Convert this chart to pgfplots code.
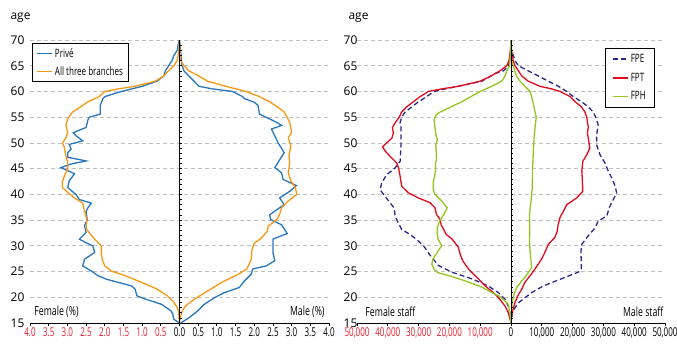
\documentclass[border=0pt]{standalone}
\usepackage{fontspec}
\setmainfont{Open Sans}
\newfontfamily\cond[FakeStretch=0.7]{Open Sans}
\newfontfamily\condt[FakeStretch=0.66]{Open Sans}
\usepackage{pgfplots}
\pgfplotsset{compat=1.18}
\definecolor{cPrive}{RGB}{40,118,190}
\definecolor{cAll}{RGB}{247,152,20}
\definecolor{cFPE}{RGB}{40,40,140}
\definecolor{cFPT}{RGB}{228,10,30}
\definecolor{cFPH}{RGB}{150,196,30}
\definecolor{negred}{RGB}{235,30,45}
\pgfplotsset{pyr/.style={
  scale only axis, height=283pt, ymin=15, ymax=70,
  clip mode=individual,
  axis x line*=bottom, axis y line*=left,
  y axis line style={draw=none},
  x axis line style={line width=1pt},
  ytick={15,20,...,70}, ytick style={draw=none},
  ymajorgrids, grid style={dash pattern=on 4pt off 3pt, black!25, line width=0.8pt},
  xtick align=outside, major tick length=3pt,
  xtick style={black, line width=0.8pt},
  /pgf/number format/assume math mode=true,
  yticklabel style={font=\fontsize{12}{12}\selectfont},
  xticklabel style={font=\condt\fontsize{12.2}{13}\selectfont, yshift=1.5pt, inner xsep=0pt},
  legend cell align=left,
  legend style={draw=black, line width=0.8pt, fill=white, font=\cond\fontsize{11.5}{12}\selectfont},
  legend image code/.code={\draw[#1, line width=1.5pt] (0pt,0pt) -- (15pt,0pt);},
}}
\begin{document}
\begin{tikzpicture}[x=1pt,y=1pt]
\path[use as bounding box] (0,0) rectangle (677,346);
% ---------------- left panel ----------------
\begin{axis}[pyr, at={(30pt,23pt)}, anchor=south west, width=299pt,
  xmin=-4, xmax=4, xtick={-4,-3.5,...,4},
  xticklabels={\textcolor{negred}{4.0},\textcolor{negred}{3.5},\textcolor{negred}{3.0},\textcolor{negred}{2.5},\textcolor{negred}{2.0},\textcolor{negred}{1.5},\textcolor{negred}{1.0},\textcolor{negred}{0.5},0.0,0.5,1.0,1.5,2.0,2.5,3.0,3.5,4.0},
  yticklabel style={xshift=-2pt},
  legend style={at={(0.007,0.99)}, anchor=north west, row sep=4pt, inner xsep=4pt, inner ysep=3pt},
]
\addplot[cPrive, line width=1.3pt] table {
x y
0 15
-0.15 15.7
-0.18 16.7
-0.22 17.3
-0.47 18.6
-1.01 19.9
-1.14 20.3
-1.19 21.6
-1.28 22.2
-1.95 23.5
-2.18 24.2
-2.36 25.1
-2.59 26.1
-2.54 27.4
-2.27 28.7
-2.32 30
-2.5 30.6
-2.68 31.3
-2.5 32.6
-2.54 33.9
-2.47 35.1
-2.5 36.7
-2.45 37.4
-2.36 38.3
-2.68 39
-2.77 40
-2.99 41.3
-2.95 42.6
-2.81 44
-3.17 45.2
-2.9 45.9
-2.5 46.5
-2.99 47.2
-2.99 48.1
-2.9 48.8
-2.95 49.7
-2.59 50.4
-2.77 51.4
-2.84 52
-2.5 53
-2.45 54.5
-2.41 55
-2.12 55.6
-2.12 57.3
-2.05 58.6
-2.0 59
-1.55 60
-1.0 61
-0.6 62
-0.42 63
-0.38 64
-0.29 65
-0.2 66
-0.15 67
-0.06 68
-0.04 69
0 70
0.03 68
0.05 66
0.07 65
0.12 64
0.25 63
0.39 62
0.52 61
0.88 60.5
1.42 60
1.69 59
1.74 58.6
2.0 57.9
2.1 57.3
2.14 55.6
2.6 54
2.73 53.4
2.46 52.7
2.64 50
2.8 48.1
2.55 45.2
2.73 44.2
2.77 42.9
3.13 41.7
2.95 40.6
2.68 39.3
2.8 38
2.6 37
2.41 36
2.44 35.1
2.73 34.1
2.88 32.4
2.5 31.3
2.5 30
2.5 28.7
2.55 27.1
2.32 26.1
1.96 25.5
1.92 24.5
1.74 23.2
1.6 21.9
1.2 20.9
0.93 19.9
0.66 18.6
0.48 17.3
0.25 16
0.03 15
};
\addlegendentry{Privé}
\addplot[cAll, line width=1.3pt] table {
x y
0 15
-0.02 16.7
-0.04 17.7
-0.15 19
-0.33 20.3
-0.6 21.6
-1.01 22.9
-1.46 24.2
-1.82 25.1
-2.0 26.1
-2.07 27.4
-2.09 28.5
-2.09 30
-2.27 31.3
-2.4 32.4
-2.5 33.4
-2.48 35.1
-2.55 37
-2.59 38.3
-2.81 39.3
-2.99 40.4
-3.13 41.3
-3.14 42.3
-3.08 43.6
-2.99 44.9
-2.99 46.2
-3.04 47.5
-3.08 49.1
-3.13 50
-3.04 51
-2.99 52
-3.04 53.4
-2.99 54.7
-2.86 56
-2.65 57
-2.45 58
-2.15 59
-2.0 60
-1.64 60.5
-1.19 61
-0.65 62
-0.42 63
-0.3 64
-0.15 65
-0.06 66
-0.02 68
0 70
0.01 68
0.03 66
0.12 65
0.25 64
0.52 63
0.75 62
1.24 61
1.78 60
2.14 59
2.41 58
2.62 57
2.8 56
2.88 55
2.95 54
3.0 52
2.91 51
2.98 49.4
2.93 47.5
2.95 46.2
2.91 44.2
2.98 42.6
3.1 41.3
3.14 40
2.91 38.7
2.73 37.4
2.68 36.1
2.6 35.1
2.37 33.8
2.35 32.8
2.19 31.5
2.0 30.5
1.94 29.2
1.92 27.4
1.87 26.6
1.8 25.5
1.58 24.5
1.13 22.9
0.68 20.9
0.39 19.6
0.16 18.3
0.07 17.3
0.02 16
0 15
};
\addlegendentry{All three branches}
\draw[black, line width=1pt] (axis cs:0,15) -- (axis cs:0,70);
\pgfplotsinvokeforeach{16,...,69}{\draw[black, line width=0.7pt] (axis cs:0,#1) -- ++(2pt,0pt);}
\node[anchor=west, font=\cond\fontsize{12.5}{13}\selectfont] at (axis description cs:0.003,0.04) {Female (\%)};
\node[anchor=east, font=\cond\fontsize{12.5}{13}\selectfont] at (axis description cs:0.997,0.04) {Male (\%)};
\node[anchor=west, font=\fontsize{12}{12}\selectfont] at (axis description cs:-0.077,1.078) {age};
\end{axis}
% ---------------- right panel ----------------
\begin{axis}[pyr, at={(357pt,23pt)}, anchor=south west, width=308pt,
  xmin=-50000, xmax=50000, xtick={-50000,-40000,...,50000},
  xticklabels={\textcolor{negred}{50,000},\textcolor{negred}{40,000},\textcolor{negred}{30,000},\textcolor{negred}{20,000},\textcolor{negred}{10,000},0,{10,000},{20,000},{30,000},{40,000},{50,000}},
  scaled x ticks=false,
  yticklabel style={xshift=4pt},
  legend style={at={(0.968,0.972)}, anchor=north east, row sep=5pt, inner xsep=7pt, inner ysep=4pt},
]
\addplot[cFPE, line width=1.3pt, dash pattern=on 5pt off 3pt] table {
x y
0 15
-400 17
-870 18.3
-1950 19.6
-4100 20.9
-7400 22.2
-12800 23.6
-19300 24.9
-23600 26.2
-26300 28.2
-28500 30.1
-31000 31.4
-32800 32.2
-35500 33.2
-36900 34.8
-37600 35.8
-38000 37.4
-39300 38.4
-40900 39.6
-42500 40.9
-42000 42.2
-40400 43.8
-37700 45.1
-36000 46.4
-35700 49.8
-35700 53
-36000 54
-35500 55
-34400 56
-32200 57
-30000 58
-27400 59
-24900 60
-21400 60.5
-17100 61
-9500 62
-6500 63
-5200 63.5
-2490 64
-870 65
-300 66
0 67
0 70
0 68
760 67
1300 66
2400 65
5600 64
8900 63
12100 62
15400 61
18100 60
20200 59
22900 58
25100 57
26700 56
27500 55
28300 53.5
27800 51.6
27800 49.6
28900 47.7
30500 46.1
31600 44.5
32700 43.2
33800 41.6
34300 40.3
33200 39
31900 37.4
31100 35.8
28300 34.8
27300 33.5
24600 31.6
23000 30.3
22700 29
22800 27.1
22800 25.5
21900 24.9
16400 23.6
10500 22.2
6700 20.9
4500 19.9
2400 18.9
1300 18
500 17
0 15
};
\addlegendentry{FPE}
\addplot[cFPT, line width=1.3pt] table {
x y
0 15
-300 15.7
-870 17
-1950 18.3
-3600 19.6
-5700 20.9
-8400 22.2
-10600 23.6
-12200 24.5
-13800 25.5
-15700 27.1
-16500 28.4
-17100 29.7
-18200 30.6
-19300 31.4
-21000 32.2
-22700 34.1
-23000 35.1
-24200 36.1
-24700 37.4
-26300 38.4
-30100 39.3
-33300 40.3
-35500 41.6
-36000 43.5
-36500 45.1
-37100 46.1
-39300 47.4
-40800 48.4
-41700 49.2
-40400 50
-38700 50.9
-38200 51.9
-38500 53
-37500 54
-36300 55
-35500 56
-33900 57
-31700 58
-29500 59
-26800 60
-22500 60.5
-17100 61
-10000 62
-6500 63
-3600 64
-1400 65
-650 66
-200 68
0 70
200 68
700 66
1300 65
2400 64
3500 63
5600 62
9400 61
13200 60.5
15900 60
19200 59
20800 58
22900 57
24000 56
24600 55
25100 53
24800 51.9
25100 50.9
25600 49
24600 47.7
23300 46.4
23000 44.5
23200 42.5
23300 40.6
21300 39.3
18100 38
17000 36.7
15900 35.5
15300 34.1
15000 32.8
14200 31.6
12100 30.3
11000 28.7
10000 27.5
7800 25.5
6200 24.2
4500 22.9
3500 21.6
2200 20.3
1300 19
650 17.6
200 16.3
0 15
};
\addlegendentry{FPT}
\addplot[cFPH, line width=1.3pt] table {
x y
0 15
-300 16.5
-870 18.6
-2500 19.6
-4100 20.3
-6500 21
-9500 22
-14000 23
-19000 24
-23800 24.8
-25000 25.5
-25700 26.4
-25400 27.4
-24000 28.7
-22500 30
-23700 31.3
-24000 32.5
-23900 33.5
-23200 34.8
-21800 36.1
-20700 37.4
-22500 38.7
-24700 40
-25200 40.9
-25200 42.5
-24500 44.5
-24500 46.1
-24200 46.7
-24300 48.4
-24400 49.6
-23900 50.6
-24400 51.6
-25000 54.5
-24300 55.5
-23000 56
-19500 57
-16000 58
-13000 59
-10000 60
-6300 61
-3000 62
-1950 63
-1400 64
-500 65
-200 67
0 70
0 68
200 66
760 65
1200 64
1800 63
2900 62
4500 61
6200 60
6700 59
7100 58
7800 56
8200 55
7800 53
7500 51
7250 48.4
7000 45
6900 41.3
6500 38.7
6000 36.1
6100 33.5
6000 31
6200 29
6500 27
6700 25.8
5300 24.5
3500 23.2
2000 22
1200 21
760 20
400 19
200 17.6
0 15
};
\addlegendentry{FPH}
\draw[black, line width=1pt] (axis cs:0,15) -- (axis cs:0,70);
\pgfplotsinvokeforeach{16,...,69}{\draw[black, line width=0.7pt] (axis cs:0,#1) -- ++(2pt,0pt);}
\node[anchor=west, font=\cond\fontsize{12.5}{13}\selectfont] at (axis description cs:0.016,0.04) {Female staff};
\node[anchor=east, font=\cond\fontsize{12.5}{13}\selectfont] at (axis description cs:1.006,0.04) {Male staff};
\node[anchor=west, font=\fontsize{12}{12}\selectfont] at (axis description cs:-0.039,1.078) {age};
\end{axis}
\end{tikzpicture}
\end{document}
